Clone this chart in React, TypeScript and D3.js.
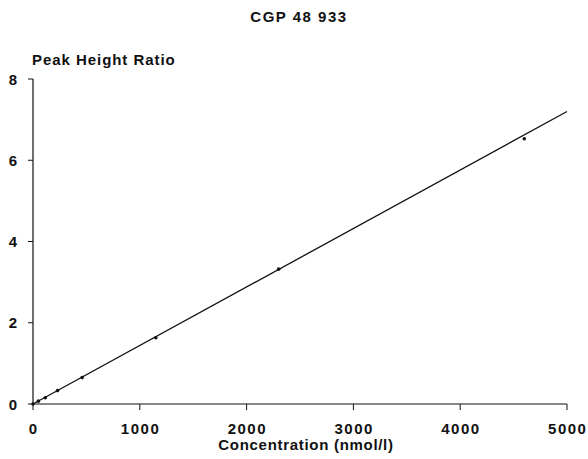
import React from "react";
import * as d3 from "d3";

const concentrations = [0, 50, 115, 230, 460, 1150, 2300, 4600];
const ratios = [0.0, 0.07, 0.155, 0.33, 0.65, 1.63, 3.32, 6.53];
const fitX = [0, 5000];
const fitY = [0, 7.2];
const xTicks = [0, 1000, 2000, 3000, 4000, 5000];
const yTicks = [0, 2, 4, 6, 8];
const title = "CGP 48 933";
const yTitle = "Peak Height Ratio";
const xTitle = "Concentration (nmol/l)";

export default function App() {
  const W = 588, H = 459;
  const x = d3.scaleLinear().domain([0, 5000]).range([33, 567]);
  const y = d3.scaleLinear().domain([0, 8]).range([404, 79]);
  const font = "'Liberation Sans', Arial, sans-serif";
  const line = d3.line<number>().x((d, i) => x(fitX[i])).y((d) => y(d));
  return (
    <svg width={W} height={H} style={{ position: "absolute", left: 0, top: 0, background: "#fff" }}>
      <text x={299} y={22} textAnchor="middle" fontFamily={font} fontWeight="bold" fontSize={15} letterSpacing={1.5} fill="#111">{title}</text>
      <text x={32} y={65} fontFamily={font} fontWeight="bold" fontSize={15} letterSpacing={0.95} fill="#111">{yTitle}</text>
      <line x1={x(0)} x2={x(0)} y1={y(0)} y2={y(8)} stroke="#111" strokeWidth={1.2} />
      <line x1={x(0)} x2={x(5000)} y1={y(0)} y2={y(0)} stroke="#111" strokeWidth={1.2} />
      {yTicks.map((t) => (
        <g key={"y" + t}>
          <line x1={x(0) - 5} x2={x(0)} y1={y(t)} y2={y(t)} stroke="#111" strokeWidth={1} />
          <text x={17} y={y(t) + 5.5} textAnchor="end" fontFamily={font} fontWeight="bold" fontSize={15} fill="#111">{t}</text>
        </g>
      ))}
      {xTicks.map((t) => (
        <g key={"x" + t}>
          <line x1={x(t)} x2={x(t)} y1={y(0)} y2={y(0) + 6} stroke="#111" strokeWidth={1} />
          <text x={x(t) + 0.75} y={433.5} textAnchor="middle" fontFamily={font} fontWeight="bold" fontSize={15} letterSpacing={1.5} fill="#111">{t}</text>
        </g>
      ))}
      <text x={306} y={450} textAnchor="middle" fontFamily={font} fontWeight="bold" fontSize={15} letterSpacing={0.7} fill="#111">{xTitle}</text>
      <path d={line(fitY) || ""} fill="none" stroke="#111" strokeWidth={1.3} />
      {concentrations.map((c, i) => (
        <circle key={"p" + i} cx={x(c)} cy={y(ratios[i])} r={1.8} fill="#111" />
      ))}
    </svg>
  );
}
